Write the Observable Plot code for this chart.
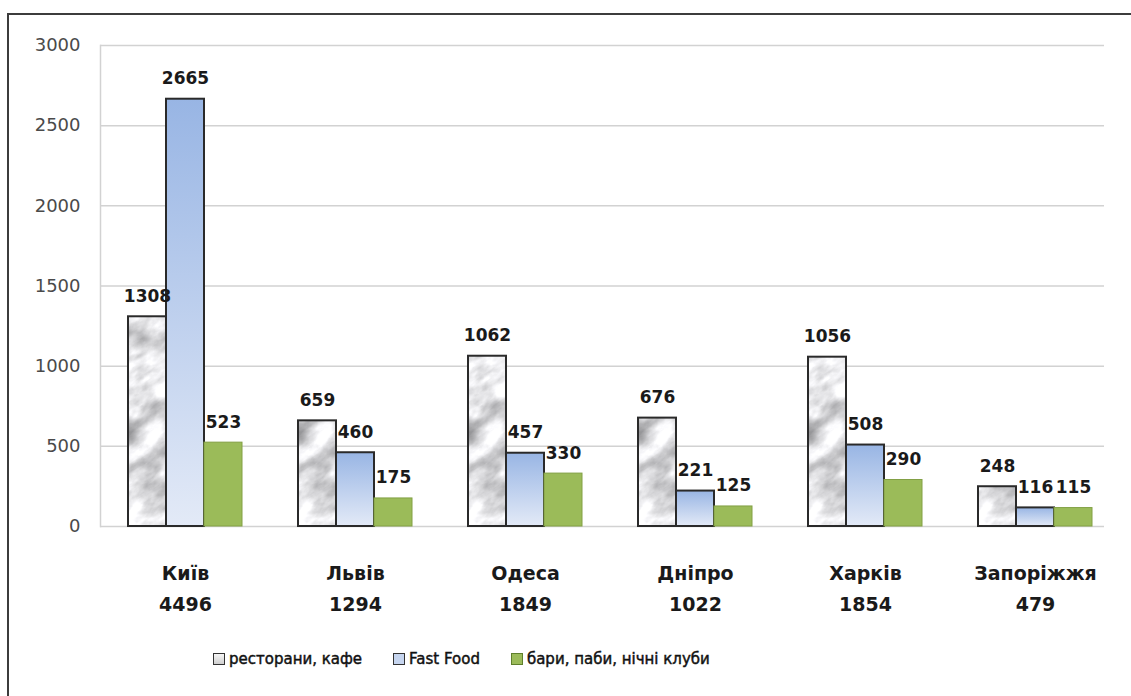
<!DOCTYPE html>
<html>
<head>
<meta charset="utf-8">
<script src="https://cdn.jsdelivr.net/npm/d3@7"></script>
<script src="https://cdn.jsdelivr.net/npm/@observablehq/plot@0.6"></script>
<style>
  html, body { margin: 0; padding: 0; background: #fff; overflow: hidden; }
  #wrap { position: relative; width: 1131px; height: 696px; font-family: "DejaVu Sans", sans-serif; }
  #chart { position: absolute; left: 0; top: 0; }
  #border { position: absolute; left: 7px; top: 13px; width: 1200px; height: 800px; border: 2px solid #3c3c3c; pointer-events: none; }
  #legend { position: absolute; left: 213px; top: 650px; display: flex; align-items: center; font-size: 15px; color: #111; -webkit-text-stroke: 0.45px #111; }
  .item { display: flex; align-items: center; margin-right: 31px; }
  .sw { width: 10px; height: 10px; border: 1px solid #333; margin-right: 4px; }
</style>
</head>
<body>
<div id="wrap">
  <div id="chart"></div>
  <div id="legend"></div>
  <div id="border"></div>
</div>
<script>
const cities = ["Київ", "Львів", "Одеса", "Дніпро", "Харків", "Запоріжжя"];
const totals = [4496, 1294, 1849, 1022, 1854, 479];
const series = ["ресторани, кафе", "Fast Food", "бари, паби, нічні клуби"];
const restaurants = [1308, 659, 1062, 676, 1056, 248];
const fastFood = [2665, 460, 457, 221, 508, 116];
const barsPubs = [523, 175, 330, 125, 290, 115];
const yTicks = [0, 500, 1000, 1500, 2000, 2500, 3000];

const valuesBySeries = [restaurants, fastFood, barsPubs];
const data = cities.flatMap((c, i) => series.map((s, j) => ({city: c, series: s, value: valuesBySeries[j][i]})));
const fills = ["url(#marble)", "url(#blueG)", "#9bbb59"];
const strokes = ["#2a2a2a", "#2a2a2a", "#82a045"];
const strokeWidths = [2, 2, 1];

const barMarks = series.map((s, j) => Plot.barY(data.filter(d => d.series === s), {
  fx: "city", x: "series", y: "value",
  fill: fills[j], stroke: strokes[j], strokeWidth: strokeWidths[j]
}));

const chart = Plot.plot({
  width: 1104,
  height: 630,
  marginLeft: 98,
  marginRight: -17,
  marginTop: 45,
  marginBottom: 104,
  fx: {domain: cities, padding: 0, axis: null, label: null},
  x: {domain: series, paddingInner: 0, paddingOuter: 0.72, axis: null, label: null},
  y: {domain: [0, 3000], axis: null, label: null},
  style: {fontFamily: "DejaVu Sans, sans-serif", background: "transparent", overflow: "hidden"},
  marks: [
    Plot.gridY(yTicks, {stroke: "#d2d2d2", strokeOpacity: 1, strokeWidth: 1.5}),
    Plot.frame({anchor: "left", fx: "Київ", stroke: "#d2d2d2", strokeWidth: 1.5}),
    Plot.axisY(yTicks, {tickSize: 0, tickPadding: 20, fontSize: 18, fill: "#4a4a4a", tickFormat: d => String(d)}),
    ...barMarks,
    Plot.text(data, {
      fx: "city", x: "series", y: "value", text: d => String(d.value),
      lineAnchor: "bottom", dy: -15, fontSize: 17, fontWeight: "bold", fill: "#1a1a1a"
    }),
    Plot.text(cities, {
      fx: d => d, text: (d, i) => d + "\n" + totals[i],
      frameAnchor: "bottom", lineAnchor: "top", dy: 32, lineHeight: 1.63,
      fontSize: 19, fontWeight: "bold", fill: "#1a1a1a"
    })
  ]
});

d3.select(chart).insert("defs", ":first-child").html(`
  <linearGradient id="blueG" x1="0" y1="0" x2="0" y2="1">
    <stop offset="0" stop-color="#98b5e4"/>
    <stop offset="1" stop-color="#e3eaf7"/>
  </linearGradient>
  <filter id="marbleF" x="0%" y="0%" width="100%" height="100%" color-interpolation-filters="sRGB">
    <feTurbulence type="fractalNoise" baseFrequency="0.03 0.055" numOctaves="5" seed="4" result="n"/>
    <feColorMatrix in="n" type="matrix" values="0.33 0.33 0.33 0 0  0.33 0.33 0.33 0 0  0.33 0.33 0.33 0 0  0 0 0 0 1" result="g"/>
    <feComponentTransfer in="g">
      <feFuncR type="linear" slope="1.15" intercept="0.31"/>
      <feFuncG type="linear" slope="1.15" intercept="0.31"/>
      <feFuncB type="linear" slope="1.15" intercept="0.32"/>
    </feComponentTransfer>
  </filter>
  <pattern id="marble" patternUnits="userSpaceOnUse" x="0" y="0" width="600" height="900" patternTransform="rotate(-35)">
    <rect width="600" height="900" fill="#e6e6e6" filter="url(#marbleF)"/>
  </pattern>
`);

document.getElementById("chart").appendChild(chart);

const swatches = ["linear-gradient(#f6f6f6, #cfcfcf)", "#c6d5ef", "#9bbb59"];
const legend = document.getElementById("legend");
series.forEach((s, j) => {
  const item = document.createElement("div");
  item.className = "item";
  const sw = document.createElement("div");
  sw.className = "sw";
  sw.style.background = swatches[j];
  if (j === 2) sw.style.borderColor = "#5f7f2c";
  const t = document.createElement("span");
  t.textContent = s;
  item.appendChild(sw);
  item.appendChild(t);
  legend.appendChild(item);
});
</script>
</body>
</html>
